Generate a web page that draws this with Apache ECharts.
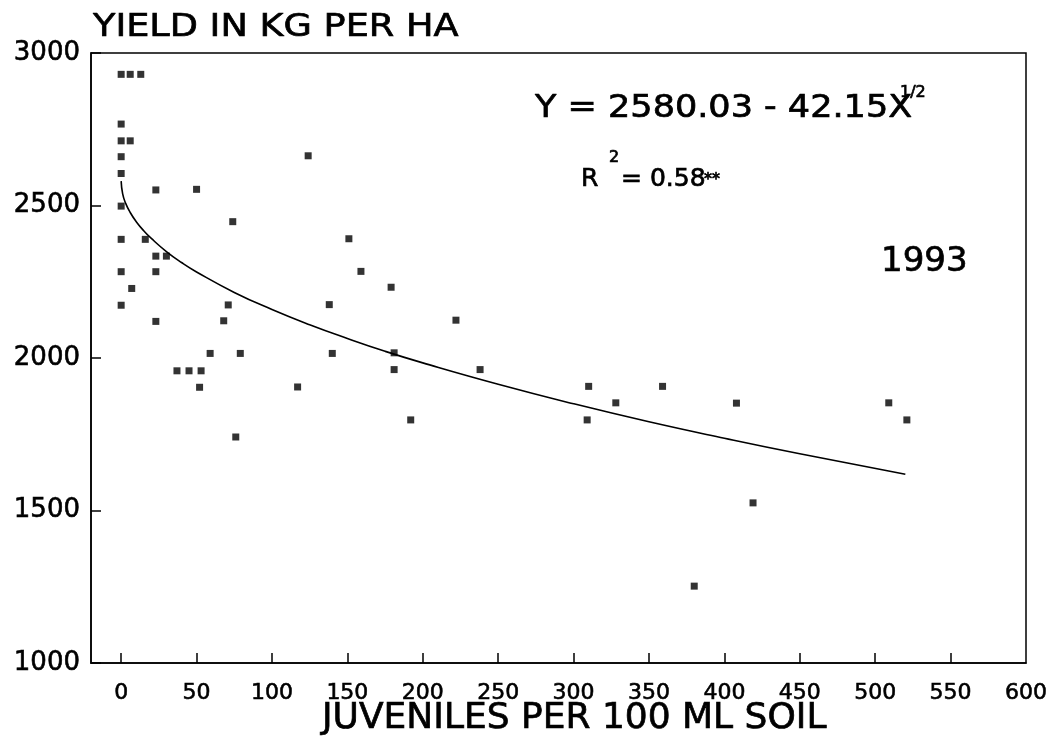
<!DOCTYPE html>
<html><head><meta charset="utf-8">
<script src="https://cdn.jsdelivr.net/npm/echarts@6/dist/echarts.min.js"></script>
<style>html,body{margin:0;padding:0;background:#fff}#c{width:1056px;height:748px}</style>
</head><body><div id="c"></div>
<script>
// Observed points: juveniles per 100 ml soil (x) and yield kg/ha (y)
const juveniles = [0,6,13,0,0,6,0,0,23,50,124,0,74,0,16,23,30,0,23,7,0,71,23,68,151,159,179,138,222,59,79,140,181,37,45,53,52,181,238,117,192,76,310,328,309,359,408,509,521,419,380];
const yields =    [2930,2930,2930,2767,2712,2712,2660,2605,2551,2553,2663,2498,2447,2389,2389,2334,2334,2283,2283,2228,2173,2174,2120,2122,2391,2284,2232,2175,2124,2015,2015,2015,2017,1958,1958,1958,1904,1962,1962,1905,1797,1741,1907,1853,1797,1907,1852,1853,1797,1525,1252];
// Fitted curve
const curveX = [0,1,3,6,10,15,20,30,40,50,75,100,125,150,175,200,250,300,350,400,450,520];
const curveY = [2580,2538,2507,2477,2447,2417,2392,2349,2313,2282,2215,2159,2109,2064,2022,1984,1914,1850,1791,1737,1686,1619];
const xTickLabels = [0,50,100,150,200,250,300,350,400,450,500,550,600];
const xTickMarks = [0,50,100,150,200,250,300,350,400,450,500,550];

const F = 'DejaVu Sans';
const heavy = {fill:'#000',stroke:'#000',lineWidth:0.7,verticalAlign:'top',align:'left'};
function txt(x,y,text,size,sx){
  return {type:'text',x:x,y:y,scaleX:sx||1,style:Object.assign({text:text,font:size+'px "DejaVu Sans"'},heavy)};
}
const chart = echarts.init(document.getElementById('c'));
chart.setOption({
  animation:false,
  backgroundColor:'#fff',
  grid:{left:91,right:30,top:53,bottom:85,show:true,borderColor:'#000',borderWidth:1.5,outerBoundsMode:'none'},
  xAxis:{type:'value',min:-20,max:600,
    axisLine:{onZero:false,lineStyle:{color:'#000',width:1.5}},
    splitLine:{show:false},
    axisTick:{inside:true,length:10,lineStyle:{color:'#000',width:1.5},customValues:xTickMarks},
    axisLabel:{color:'#000',fontFamily:F,fontSize:22,margin:19,textBorderColor:'#000',textBorderWidth:0.6,customValues:xTickLabels}
  },
  yAxis:{type:'value',min:1000,max:3000,interval:500,
    axisLine:{onZero:false,lineStyle:{color:'#000',width:1.5}},
    splitLine:{show:false},
    axisTick:{inside:true,length:10,lineStyle:{color:'#000',width:1.5}},
    axisLabel:{color:'#000',fontFamily:F,fontSize:26,margin:11,textBorderColor:'#000',textBorderWidth:0.6,formatter:v=>String(v)}
  },
  series:[
    {type:'scatter',data:juveniles.map((x,i)=>[x,yields[i]]),symbol:'rect',symbolSize:7,itemStyle:{color:'#000'}},
    {type:'line',data:curveX.map((x,i)=>[x,curveY[i]]),smooth:true,showSymbol:false,lineStyle:{color:'#000',width:1.6}}
  ],
  graphic:[
    txt(93,12,'YIELD IN KG PER HA',32,1.145),
    txt(535,93,'Y = 2580.03 - 42.15X',32,1.095),
    txt(900,85,'1/2',16,1),
    txt(581,167,'R',25,1),
    txt(609,150,'2',16,1),
    txt(621,167,'= 0.58',25,1),
    txt(704,172,'**',16,1),
    txt(881,245,'1993',34,1),
    txt(322,701,'JUVENILES PER 100 ML SOIL',36,1)
  ]
});
</script></body></html>
